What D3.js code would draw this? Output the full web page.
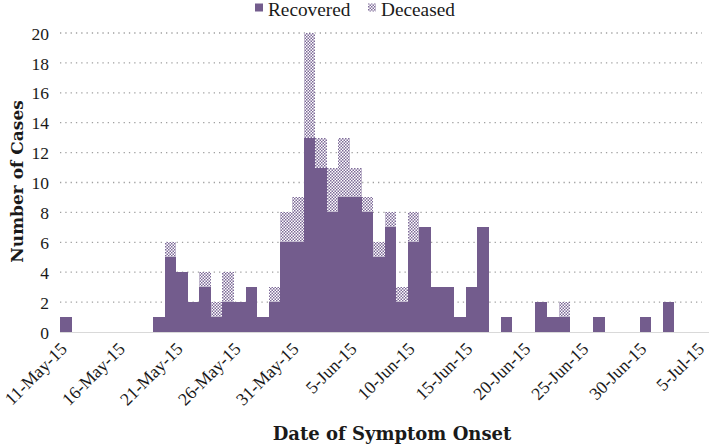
<!DOCTYPE html>
<html>
<head>
<meta charset="utf-8">
<script src="https://cdn.jsdelivr.net/npm/d3@7"></script>
<style>
  html, body { margin: 0; padding: 0; background: #fff; }
  svg { display: block; }
  text { fill: #1a1a1a; }
</style>
</head>
<body>
<svg id="chart" width="710" height="446"></svg>
<script>
// ---- Data ----
const dates = [
  "11-May-15","12-May-15","13-May-15","14-May-15","15-May-15","16-May-15","17-May-15",
  "18-May-15","19-May-15","20-May-15","21-May-15","22-May-15","23-May-15","24-May-15",
  "25-May-15","26-May-15","27-May-15","28-May-15","29-May-15","30-May-15","31-May-15",
  "1-Jun-15","2-Jun-15","3-Jun-15","4-Jun-15","5-Jun-15","6-Jun-15","7-Jun-15",
  "8-Jun-15","9-Jun-15","10-Jun-15","11-Jun-15","12-Jun-15","13-Jun-15","14-Jun-15",
  "15-Jun-15","16-Jun-15","17-Jun-15","18-Jun-15","19-Jun-15","20-Jun-15","21-Jun-15",
  "22-Jun-15","23-Jun-15","24-Jun-15","25-Jun-15","26-Jun-15","27-Jun-15","28-Jun-15",
  "29-Jun-15","30-Jun-15","1-Jul-15","2-Jul-15","3-Jul-15","4-Jul-15","5-Jul-15"
];
const recovered = [
  1,0,0,0,0,0,0,
  0,1,5,4,2,3,1,
  2,2,3,1,2,6,6,
  13,11,8,9,9,8,5,
  7,2,6,7,3,3,1,
  3,7,0,1,0,0,2,
  1,1,0,0,1,0,0,
  0,1,0,2,0,0,0
];
const deceased = [
  0,0,0,0,0,0,0,
  0,0,1,0,0,1,1,
  2,0,0,0,1,2,3,
  7,2,3,4,2,1,1,
  1,1,2,0,0,0,0,
  0,0,0,0,0,0,0,
  0,1,0,0,0,0,0,
  0,0,0,0,0,0,0
];
const tickLabels = ["11-May-15","16-May-15","21-May-15","26-May-15","31-May-15","5-Jun-15",
  "10-Jun-15","15-Jun-15","20-Jun-15","25-Jun-15","30-Jun-15","5-Jul-15"];
const yTicks = [0,2,4,6,8,10,12,14,16,18,20];
const seriesNames = ["Recovered","Deceased"];

// ---- Chart ----
const svg = d3.select("#chart");
const purple = "#735c8d";
const serif = "'Liberation Serif', 'Times New Roman', serif";
const boldSerif = "'DejaVu Serif', serif";

const defs = svg.append("defs");
const pat = defs.append("pattern").attr("id","checker")
  .attr("patternUnits","userSpaceOnUse").attr("width",3).attr("height",3);
pat.append("rect").attr("width",3).attr("height",3).attr("fill","#ffffff");
pat.append("rect").attr("x",0).attr("y",0).attr("width",1.5).attr("height",1.5).attr("fill","#7d6a98");
pat.append("rect").attr("x",1.5).attr("y",1.5).attr("width",1.5).attr("height",1.5).attr("fill","#7d6a98");

const x = d3.scaleBand().domain(dates).range([60.2, 709.2]).padding(0);
const y = d3.scaleLinear().domain([0,20]).range([332, 33]);

// gridlines
svg.append("g").selectAll("line").data(yTicks.filter(d => d > 0)).join("line")
  .attr("x1", 60).attr("x2", 702)
  .attr("y1", d => y(d)).attr("y2", d => y(d))
  .attr("stroke", "#a0a0a0").attr("stroke-width", 1.3)
  .attr("stroke-dasharray", "1.3,4");

// stacked bars
const rows = dates.map((d,i) => ({date:d, Recovered: recovered[i], Deceased: deceased[i]}));
const stack = d3.stack().keys(seriesNames)(rows);
const fills = {Recovered: purple, Deceased: "url(#checker)"};
svg.append("g").selectAll("g").data(stack).join("g")
  .attr("fill", s => fills[s.key])
  .selectAll("rect").data(s => s.filter(p => p[1] > p[0])).join("rect")
  .attr("x", p => x(p.data.date))
  .attr("width", x.bandwidth())
  .attr("y", p => y(p[1]))
  .attr("height", p => y(p[0]) - y(p[1]))
  .attr("shape-rendering","crispEdges");

// baseline axis
svg.append("line").attr("x1", 60).attr("x2", 709).attr("y1", y(0)+0.5).attr("y2", y(0)+0.5)
  .attr("stroke", "#d9d9d9").attr("stroke-width", 1);

// y axis labels
const yAxis = d3.axisLeft(y).tickValues(yTicks).tickSize(0).tickPadding(0);
const yg = svg.append("g").attr("transform","translate(49,0)").call(yAxis);
yg.select(".domain").remove();
yg.selectAll("text").style("font-size", "17.5px").style("font-family", serif)
  .style("fill","#1a1a1a").attr("dy","0.35em").attr("x",0);

// x axis labels
const xAxis = d3.axisBottom(x).tickValues(tickLabels).tickSize(0).tickPadding(0);
const xg = svg.append("g").attr("transform", `translate(0,${y(0)})`).call(xAxis);
xg.select(".domain").remove();
xg.selectAll("text")
  .style("font-size", "17.8px").style("font-family", serif).style("fill","#1a1a1a")
  .attr("text-anchor","end")
  .attr("y", 0).attr("dy", 0)
  .attr("transform", "translate(2,18) rotate(-45)");

// axis titles
svg.append("text").attr("x", 392).attr("y", 440).attr("text-anchor","middle")
  .style("font-family", boldSerif).style("font-size", "18px").style("font-weight","bold")
  .text("Date of Symptom Onset");
svg.append("text").attr("transform","translate(23,181.5) rotate(-90)").attr("text-anchor","middle")
  .style("font-family", boldSerif).style("font-size", "17px").style("font-weight","bold")
  .text("Number of Cases");

// legend
const legendItems = [
  {name: seriesNames[0], fill: purple, x: 255},
  {name: seriesNames[1], fill: "url(#checker)", x: 368}
];
const lg = svg.append("g").selectAll("g").data(legendItems).join("g")
  .attr("transform", d => `translate(${d.x},0)`);
lg.append("rect").attr("x",0).attr("y",3.5).attr("width",8).attr("height",8).attr("fill", d => d.fill);
lg.append("text").attr("x",13).attr("y",15.5)
  .style("font-family", serif).style("font-size","19.3px").text(d => d.name);
</script>
</body>
</html>
